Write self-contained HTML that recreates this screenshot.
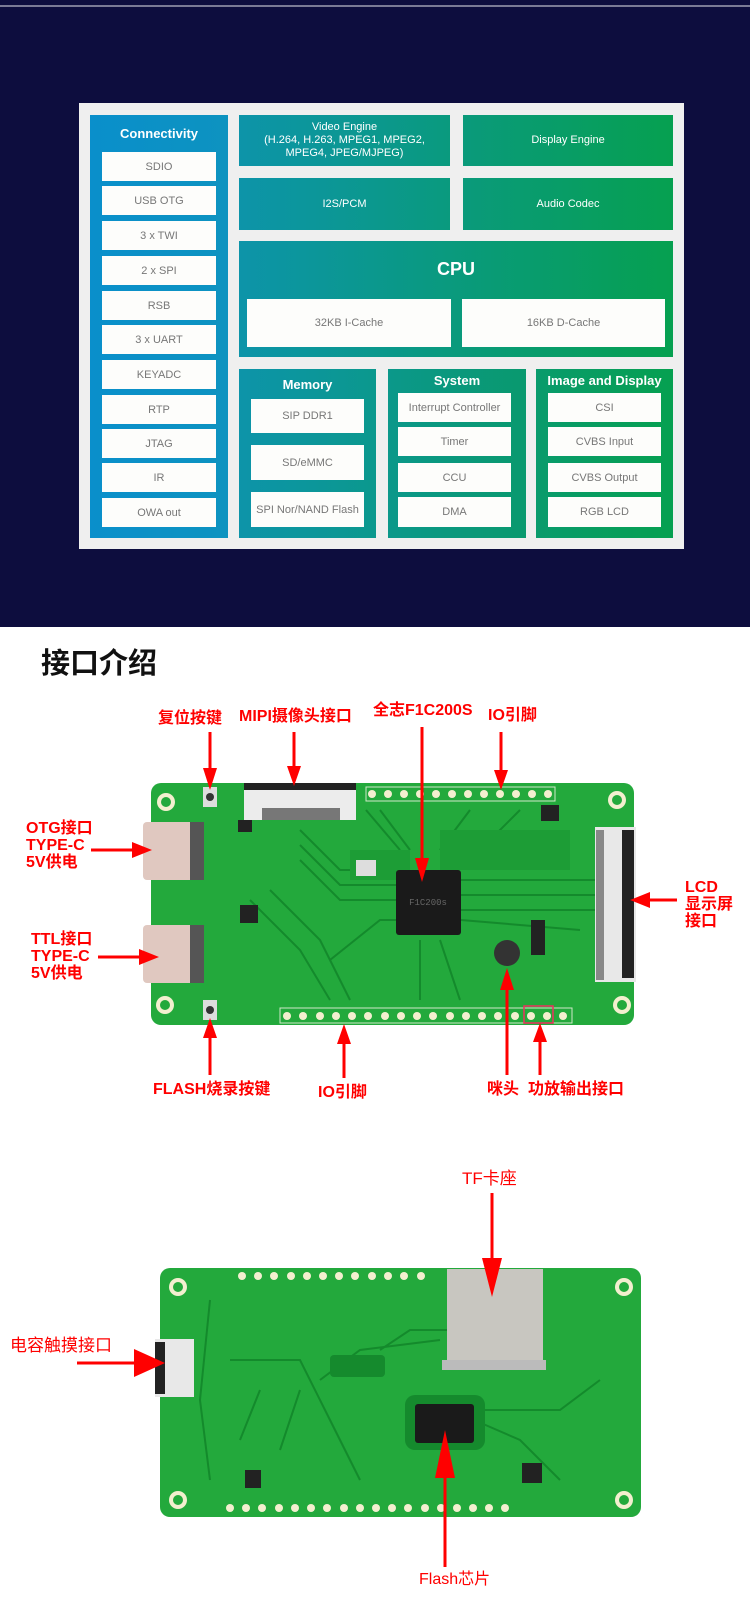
<!DOCTYPE html>
<html><head><meta charset="utf-8"><style>
*{margin:0;padding:0;box-sizing:border-box}
body{width:750px;height:1623px;position:relative;background:#fff;overflow:hidden;font-family:"Liberation Sans","Noto Sans CJK SC",sans-serif}
.a{position:absolute}
.box{position:absolute;color:#fff;display:flex;align-items:center;justify-content:center;text-align:center;font-size:11px;line-height:13px}
.w{position:absolute;background:#fdfdfb;color:#777;font-size:11px;display:flex;align-items:center;justify-content:center}
.t{position:absolute;color:#fff;font-weight:bold;font-size:13px;text-align:center}
.r{position:absolute;color:#f00;font-weight:bold;font-size:16px;line-height:17px;white-space:nowrap;font-family:"Liberation Sans","Noto Sans CJK SC",sans-serif}
</style></head><body>
<div class="a" style="left:0;top:0;width:750px;height:627px;background:#0d0d3e"></div>
<div class="a" style="left:0;top:5px;width:750px;height:2px;background:#7a7a95"></div>
<div class="a" style="left:79px;top:103px;width:605px;height:446px;background:#efefef"></div>
<!-- connectivity -->
<div class="a" style="left:90px;top:115px;width:138px;height:423px;background:linear-gradient(90deg,#0a8fcb,#0d93c0)"></div>
<div class="t" style="left:90px;top:126px;width:138px">Connectivity</div>
<div class="w" style="left:102px;top:152px;width:114px;height:29px">SDIO</div>
<div class="w" style="left:102px;top:186px;width:114px;height:29px">USB OTG</div>
<div class="w" style="left:102px;top:221px;width:114px;height:29px">3 x TWI</div>
<div class="w" style="left:102px;top:256px;width:114px;height:29px">2 x SPI</div>
<div class="w" style="left:102px;top:291px;width:114px;height:29px">RSB</div>
<div class="w" style="left:102px;top:325px;width:114px;height:29px">3 x UART</div>
<div class="w" style="left:102px;top:360px;width:114px;height:29px">KEYADC</div>
<div class="w" style="left:102px;top:395px;width:114px;height:29px">RTP</div>
<div class="w" style="left:102px;top:429px;width:114px;height:29px">JTAG</div>
<div class="w" style="left:102px;top:463px;width:114px;height:29px">IR</div>
<div class="w" style="left:102px;top:498px;width:114px;height:29px">OWA out</div>
<!-- top boxes -->
<div class="box" style="left:239px;top:115px;width:211px;height:51px;background:linear-gradient(90deg,#0d94a9,#0a9a7e)">Video Engine<br>(H.264, H.263, MPEG1, MPEG2,<br>MPEG4, JPEG/MJPEG)</div>
<div class="box" style="left:463px;top:115px;width:210px;height:51px;background:linear-gradient(90deg,#0a9a7b,#06a050)">Display Engine</div>
<div class="box" style="left:239px;top:178px;width:211px;height:52px;background:linear-gradient(90deg,#0d94a9,#0a9a7e)">I2S/PCM</div>
<div class="box" style="left:463px;top:178px;width:210px;height:52px;background:linear-gradient(90deg,#0a9a7b,#06a050)">Audio Codec</div>
<div class="a" style="left:239px;top:241px;width:434px;height:116px;background:linear-gradient(90deg,#0d94a9,#06a050)"></div>
<div class="t" style="left:239px;top:259px;width:434px;font-size:18px">CPU</div>
<div class="w" style="left:247px;top:299px;width:204px;height:48px">32KB I-Cache</div>
<div class="w" style="left:462px;top:299px;width:203px;height:48px">16KB D-Cache</div>
<!-- bottom row -->
<div class="a" style="left:239px;top:369px;width:137px;height:169px;background:linear-gradient(90deg,#0d94a9,#0b988d)"></div>
<div class="t" style="left:239px;top:377px;width:137px">Memory</div>
<div class="w" style="left:251px;top:399px;width:113px;height:34px">SIP DDR1</div>
<div class="w" style="left:251px;top:445px;width:113px;height:35px">SD/eMMC</div>
<div class="w" style="left:251px;top:492px;width:113px;height:35px">SPI Nor/NAND Flash</div>
<div class="a" style="left:388px;top:369px;width:138px;height:169px;background:linear-gradient(90deg,#0b988a,#09996e)"></div>
<div class="t" style="left:388px;top:373px;width:138px">System</div>
<div class="w" style="left:398px;top:393px;width:113px;height:29px">Interrupt Controller</div>
<div class="w" style="left:398px;top:427px;width:113px;height:29px">Timer</div>
<div class="w" style="left:398px;top:463px;width:113px;height:29px">CCU</div>
<div class="w" style="left:398px;top:497px;width:113px;height:30px">DMA</div>
<div class="a" style="left:536px;top:369px;width:137px;height:169px;background:linear-gradient(90deg,#099b6c,#06a050)"></div>
<div class="t" style="left:536px;top:373px;width:137px">Image and Display</div>
<div class="w" style="left:548px;top:393px;width:113px;height:29px">CSI</div>
<div class="w" style="left:548px;top:427px;width:113px;height:29px">CVBS Input</div>
<div class="w" style="left:548px;top:463px;width:113px;height:29px">CVBS Output</div>
<div class="w" style="left:548px;top:497px;width:113px;height:30px">RGB LCD</div>

<div class="a" style="left:41px;top:643px;font-size:29px;font-weight:bold;color:#111;font-family:'Noto Sans CJK SC',sans-serif;line-height:36px">接口介绍</div>

<svg class="a" style="left:0;top:0" width="750" height="1623" viewBox="0 0 750 1623">
<defs>
<marker id="h" markerWidth="5" markerHeight="5" refX="4" refY="2.5" orient="auto" markerUnits="strokeWidth"><path d="M0,0 L5,2.5 L0,5 Z" fill="#f00"/></marker>
</defs>
<!-- board 1 -->
<rect x="151" y="783" width="483" height="242" rx="10" fill="#23a93c"/>
<g stroke="#148a2c" stroke-width="2" fill="none">
<path d="M300 830 L340 870 L396 870 M300 845 L340 885 L396 885 M300 860 L340 900 L396 900 M330 960 L380 920 L396 920"/>
<path d="M461 880 L595 880 M461 895 L595 895 M461 910 L595 910 M461 920 L580 930"/>
<path d="M366 810 L400 850 M380 810 L410 850 M470 810 L440 850 M520 810 L480 850"/>
<path d="M250 900 L300 950 L330 1000 M270 890 L320 940 L350 1000 M420 940 L420 1000 M440 940 L460 1000"/>
</g>
<rect x="440" y="830" width="130" height="40" fill="#1d9d36"/>
<rect x="350" y="850" width="60" height="30" fill="#1d9d36"/>
<g fill="#f3efcf"><circle cx="166" cy="802" r="9"/><circle cx="617" cy="800" r="9"/><circle cx="165" cy="1005" r="9"/><circle cx="622" cy="1005" r="9"/></g>
<g fill="#23a93c"><circle cx="166" cy="802" r="5"/><circle cx="617" cy="800" r="5"/><circle cx="165" cy="1005" r="5"/><circle cx="622" cy="1005" r="5"/></g>
<rect x="244" y="783" width="112" height="37" fill="#ececec"/><rect x="244" y="783" width="112" height="7" fill="#222"/><rect x="262" y="808" width="78" height="12" fill="#777"/>
<rect x="143" y="822" width="58" height="58" rx="4" fill="#e0c8c0"/><rect x="190" y="822" width="14" height="58" fill="#555"/>
<rect x="143" y="925" width="58" height="58" rx="4" fill="#e0c8c0"/><rect x="190" y="925" width="14" height="58" fill="#555"/>
<rect x="203" y="787" width="14" height="20" fill="#ddd"/><circle cx="210" cy="797" r="4" fill="#333"/>
<rect x="203" y="1000" width="14" height="20" fill="#ddd"/><circle cx="210" cy="1010" r="4" fill="#333"/>
<rect x="396" y="870" width="65" height="65" rx="3" fill="#1a1a1a"/>
<text x="428" y="905" font-size="9" fill="#666" text-anchor="middle" font-family="Liberation Mono">F1C200s</text>
<circle cx="507" cy="953" r="13" fill="#333"/>
<rect x="595" y="827" width="41" height="155" fill="#e8e8e8"/><rect x="622" y="830" width="12" height="148" fill="#222"/><rect x="596" y="830" width="8" height="150" fill="#888"/>
<rect x="240" y="905" width="18" height="18" fill="#222"/><rect x="238" y="820" width="14" height="12" fill="#222"/>
<rect x="541" y="805" width="18" height="16" fill="#222"/><rect x="531" y="920" width="14" height="35" fill="#222"/>
<rect x="356" y="860" width="20" height="16" fill="#ddd"/>
<rect x="366" y="787" width="189" height="14" fill="none" stroke="#cfe8c8"/>
<g fill="#f3efcf" id="p1"></g>
<rect x="280" y="1008" width="292" height="15" fill="none" stroke="#cfe8c8"/>
<rect x="524" y="1006" width="29" height="17" fill="none" stroke="#f03060" stroke-width="1.5"/>
<g fill="#f3efcf">
<circle cx="372" cy="794" r="4"/><circle cx="388" cy="794" r="4"/><circle cx="404" cy="794" r="4"/><circle cx="420" cy="794" r="4"/><circle cx="436" cy="794" r="4"/><circle cx="452" cy="794" r="4"/><circle cx="468" cy="794" r="4"/><circle cx="484" cy="794" r="4"/><circle cx="500" cy="794" r="4"/><circle cx="516" cy="794" r="4"/><circle cx="532" cy="794" r="4"/><circle cx="548" cy="794" r="4"/>
<circle cx="287" cy="1016" r="4"/><circle cx="303" cy="1016" r="4"/><circle cx="320" cy="1016" r="4"/><circle cx="336" cy="1016" r="4"/><circle cx="352" cy="1016" r="4"/><circle cx="368" cy="1016" r="4"/><circle cx="385" cy="1016" r="4"/><circle cx="401" cy="1016" r="4"/><circle cx="417" cy="1016" r="4"/><circle cx="433" cy="1016" r="4"/><circle cx="450" cy="1016" r="4"/><circle cx="466" cy="1016" r="4"/><circle cx="482" cy="1016" r="4"/><circle cx="498" cy="1016" r="4"/><circle cx="515" cy="1016" r="4"/><circle cx="531" cy="1016" r="4"/><circle cx="547" cy="1016" r="4"/><circle cx="563" cy="1016" r="4"/>
</g>
<!-- board 2 -->
<rect x="160" y="1268" width="481" height="249" rx="10" fill="#23a93c"/>
<g stroke="#148a2c" stroke-width="2" fill="none">
<path d="M210 1300 L200 1400 L210 1480 M230 1360 L300 1360 L330 1420 L360 1480 M260 1390 L240 1440 M300 1390 L280 1450 M320 1380 L360 1350 L440 1340"/>
<path d="M380 1350 L410 1330 L447 1330 M474 1420 L520 1440 L560 1480 M474 1410 L560 1410 L600 1380"/>
</g>
<rect x="330" y="1355" width="55" height="22" rx="4" fill="#158a2d"/>
<rect x="405" y="1395" width="80" height="55" rx="10" fill="#158a2d"/>
<g fill="#f3efcf"><circle cx="178" cy="1287" r="9"/><circle cx="624" cy="1287" r="9"/><circle cx="178" cy="1500" r="9"/><circle cx="624" cy="1500" r="9"/></g>
<g fill="#23a93c"><circle cx="178" cy="1287" r="5"/><circle cx="624" cy="1287" r="5"/><circle cx="178" cy="1500" r="5"/><circle cx="624" cy="1500" r="5"/></g>
<rect x="447" y="1269" width="96" height="99" fill="#c8c6c0"/><rect x="442" y="1360" width="104" height="10" fill="#bbb"/>
<rect x="155" y="1339" width="39" height="58" fill="#e8e8e8"/><rect x="155" y="1342" width="10" height="52" fill="#222"/>
<rect x="415" y="1404" width="59" height="39" rx="3" fill="#1a1a1a"/>
<rect x="522" y="1463" width="20" height="20" fill="#222"/><rect x="245" y="1470" width="16" height="18" fill="#222"/>
<g fill="#f3efcf">
<circle cx="242" cy="1276" r="4"/><circle cx="258" cy="1276" r="4"/><circle cx="274" cy="1276" r="4"/><circle cx="291" cy="1276" r="4"/><circle cx="307" cy="1276" r="4"/><circle cx="323" cy="1276" r="4"/><circle cx="339" cy="1276" r="4"/><circle cx="355" cy="1276" r="4"/><circle cx="372" cy="1276" r="4"/><circle cx="388" cy="1276" r="4"/><circle cx="404" cy="1276" r="4"/><circle cx="421" cy="1276" r="4"/>
<circle cx="230" cy="1508" r="4"/><circle cx="246" cy="1508" r="4"/><circle cx="262" cy="1508" r="4"/><circle cx="279" cy="1508" r="4"/><circle cx="295" cy="1508" r="4"/><circle cx="311" cy="1508" r="4"/><circle cx="327" cy="1508" r="4"/><circle cx="344" cy="1508" r="4"/><circle cx="360" cy="1508" r="4"/><circle cx="376" cy="1508" r="4"/><circle cx="392" cy="1508" r="4"/><circle cx="408" cy="1508" r="4"/><circle cx="425" cy="1508" r="4"/><circle cx="441" cy="1508" r="4"/><circle cx="457" cy="1508" r="4"/><circle cx="473" cy="1508" r="4"/><circle cx="489" cy="1508" r="4"/><circle cx="505" cy="1508" r="4"/>
</g>
<!-- arrows -->
<g stroke="#f00" stroke-width="3" fill="none">
<path d="M210 732 L210 772"/><path d="M294 732 L294 770"/><path d="M422 727 L422 865"/><path d="M501 732 L501 775"/>
<path d="M91 850 L136 850"/><path d="M98 957 L143 957"/><path d="M677 900 L645 900"/>
<path d="M210 1075 L210 1034"/><path d="M344 1078 L344 1040"/><path d="M507 1075 L507 984"/><path d="M540 1075 L540 1038"/>
<path d="M492 1193 L492 1262"/><path d="M77 1363 L140 1363"/><path d="M445 1567 L445 1468"/>
</g>
<g fill="#f00">
<path d="M203 768 L217 768 L210 790Z"/><path d="M287 766 L301 766 L294 786Z"/><path d="M415 858 L429 858 L422 882Z"/><path d="M494 770 L508 770 L501 790Z"/>
<path d="M132 842 L132 858 L152 850Z"/><path d="M139 949 L139 965 L159 957Z"/><path d="M650 892 L650 908 L630 900Z"/>
<path d="M203 1038 L217 1038 L210 1018Z"/><path d="M337 1044 L351 1044 L344 1024Z"/><path d="M500 990 L514 990 L507 968Z"/><path d="M533 1042 L547 1042 L540 1023Z"/>
<path d="M482 1258 L502 1258 L492 1297Z"/><path d="M134 1349 L134 1377 L165 1363Z"/><path d="M435 1478 L455 1478 L445 1430Z"/>
</g>
</svg>

<div class="r" style="left:158px;top:710px">复位按键</div>
<div class="r" style="left:239px;top:708px">MIPI摄像头接口</div>
<div class="r" style="left:373px;top:702px">全志F1C200S</div>
<div class="r" style="left:488px;top:707px">IO引脚</div>
<div class="r" style="left:26px;top:820px">OTG接口<br>TYPE-C<br>5V供电</div>
<div class="r" style="left:31px;top:931px">TTL接口<br>TYPE-C<br>5V供电</div>
<div class="r" style="left:685px;top:879px">LCD<br>显示屏<br>接口</div>
<div class="r" style="left:153px;top:1081px">FLASH烧录按键</div>
<div class="r" style="left:318px;top:1084px">IO引脚</div>
<div class="r" style="left:487px;top:1081px">咪头</div>
<div class="r" style="left:528px;top:1081px">功放输出接口</div>
<div class="r" style="left:462px;top:1170px;font-weight:normal;font-size:17px">TF卡座</div>
<div class="r" style="left:10px;top:1337px;font-weight:normal;font-size:17px">电容触摸接口</div>
<div class="r" style="left:419px;top:1571px;font-weight:normal;font-size:16px">Flash芯片</div>
</body></html>
